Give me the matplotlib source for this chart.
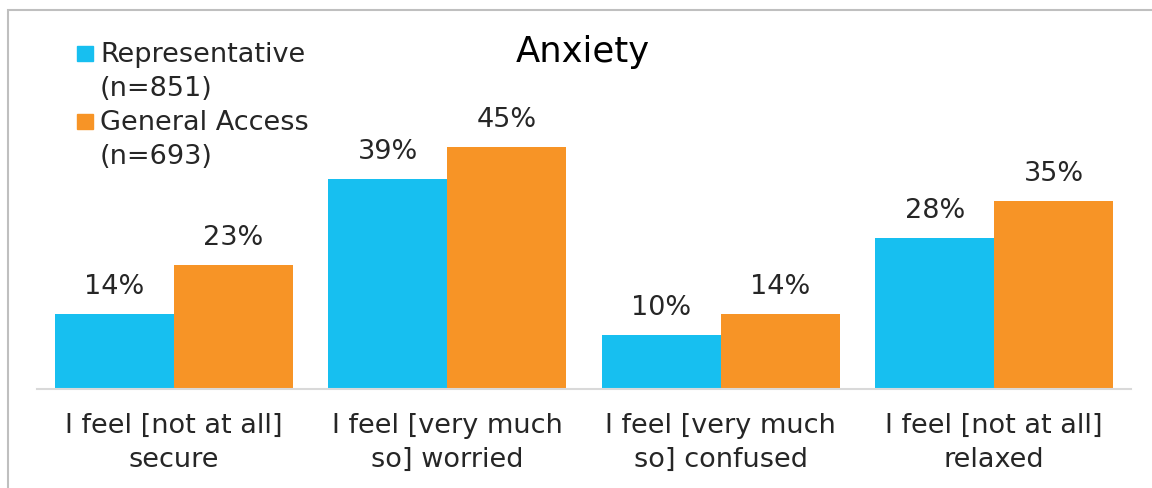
import matplotlib
matplotlib.use('Agg')
import matplotlib.pyplot as plt
import numpy as np
from matplotlib.patches import Rectangle

# data
categories = ['I feel [not at all]\nsecure', 'I feel [very much\nso] worried',
              'I feel [very much\nso] confused', 'I feel [not at all]\nrelaxed']
representative = [14, 39, 10, 28]
general_access = [23, 45, 14, 35]
series_names = [['Representative', '(n=851)'], ['General Access', '(n=693)']]
colors = ['#17BFF0', '#F79426']

plt.rcParams['font.family'] = ['DejaVu Sans']
text_color = '#262626'
fs = 19.5

fig = plt.figure(figsize=(11.52, 4.88), dpi=100)
W, H = 1152, 488

# axes placed in pixel terms
left, right, base, top = 37, 1131, 389, 120
ax = fig.add_axes([left / W, 1 - base / H, (right - left) / W, (base - top) / H])

x = np.arange(len(categories))
width = 0.435
bars1 = ax.bar(x - width / 2, representative, width, color=colors[0])
bars2 = ax.bar(x + width / 2, general_access, width, color=colors[1])

# value labels above bars
for bars in (bars1, bars2):
    for b in bars:
        ax.annotate(f'{b.get_height():.0f}%', (b.get_x() + b.get_width() / 2, b.get_height()),
                    xytext=(0, 19.5), textcoords='offset points', ha='center', va='center',
                    fontsize=fs, color=text_color)

ax.set_xlim(-0.5, 3.5)
ax.set_ylim(0, 50)
ax.set_xticks(x)
ax.set_xticklabels(categories, fontsize=fs, color=text_color, linespacing=1.42)
ax.tick_params(axis='x', length=0, pad=17)
ax.set_yticks([])
for s in ['top', 'right', 'left']:
    ax.spines[s].set_visible(False)
ax.spines['bottom'].set_color('#D9D9D9')
ax.spines['bottom'].set_linewidth(1.5)

# title
fig.text(583 / W, 1 - 62 / H, 'Anxiety', ha='center', va='baseline', fontsize=25.5, color='black')

# legend drawn by hand so the squares line up with the first text line
leg_base = [62, 130]
for lines, c, y in zip(series_names, colors, leg_base):
    fig.patches.append(Rectangle((77 / W, 1 - (y - 1) / H), 16 / W, 15 / H,
                                 transform=fig.transFigure, color=c))
    for i, line in enumerate(lines):
        fig.text(100 / W, 1 - (y + 34 * i) / H, line, ha='left', va='baseline', fontsize=fs,
                 color=text_color)

# outer border of the chart area
fig.patches.append(Rectangle((8 / W, -0.1), 1.2, 1 - 10 / H + 0.1, transform=fig.transFigure,
                             fill=False, edgecolor='#BFBFBF', linewidth=1.5))

fig.savefig('out.png', dpi=100)
